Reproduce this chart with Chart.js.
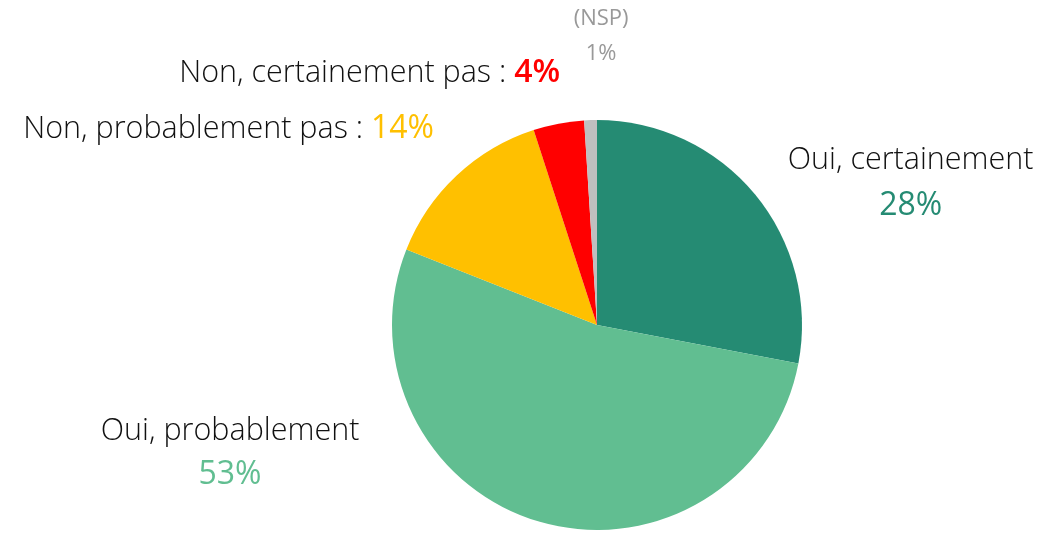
<!DOCTYPE html>
<html>
<head>
<meta charset="utf-8">
<script src="https://cdn.jsdelivr.net/npm/chart.js@4/dist/chart.umd.min.js"></script>
<style>
  html, body { margin: 0; padding: 0; background: #fff; }
  #wrap { width: 1046px; height: 543px; }
</style>
</head>
<body>
<div id="wrap"><canvas id="pieChart" width="1046" height="543"></canvas></div>
<script>
// answers, clockwise from the top
const categories = ['Oui, certainement', 'Oui, probablement', 'Non, probablement pas', 'Non, certainement pas', '(NSP)'];
const shares = [28, 53, 14, 4, 1];
const sliceColors = ['#258B73', '#61BE91', '#FFC000', '#FF0000', '#BFBFBF'];

const FONT = '"Open Sans", "Noto Sans", sans-serif';

// labels drawn around the pie, positioned relative to its center and radius
const pieLabels = {
    id: 'pieLabels',
    afterDraw(chart) {
        const arc = chart.getDatasetMeta(0).data[0];
        const cx = arc.x, cy = arc.y, r = arc.outerRadius;
        const ctx = chart.ctx;
        ctx.save();
        ctx.textBaseline = 'middle';

        function txt(s, x, y, color, size, align, weight) {
            ctx.font = (weight || '300') + ' ' + size + 'px ' + FONT;
            ctx.fillStyle = color;
            ctx.textAlign = align;
            ctx.fillText(s, x, y);
            return ctx.measureText(s).width;
        }
        const pct = i => shares[i] + '%';

        // Oui, certainement
        txt(categories[0], cx + 1.53 * r, cy - 0.805 * r, '#111', 30.5, 'center');
        txt(pct(0), cx + 1.53 * r, cy - 0.58 * r, sliceColors[0], 32, 'center', '400');

        // Oui, probablement
        txt(categories[1], cx - 1.79 * r, cy + 0.52 * r, '#111', 30.5, 'center');
        txt(pct(1), cx - 1.79 * r, cy + 0.73 * r, sliceColors[1], 32, 'center', '400');

        // Non, probablement pas : 14%
        ctx.font = '400 32px ' + FONT;
        let w = ctx.measureText(pct(2)).width;
        let right = cx - 0.795 * r;
        txt(pct(2), right, cy - 0.955 * r, sliceColors[2], 32, 'right', '400');
        txt(categories[2] + ' : ', right - w, cy - 0.955 * r, '#111', 30.5, 'right');

        // Non, certainement pas : 4%
        ctx.font = '600 32px ' + FONT;
        w = ctx.measureText(pct(3)).width;
        right = cx - 0.18 * r;
        txt(pct(3), right, cy - 1.23 * r, sliceColors[3], 32, 'right', '600');
        txt(categories[3] + ' : ', right - w, cy - 1.23 * r, '#111', 30.5, 'right');

        // (NSP)
        txt(categories[4], cx + 0.02 * r, cy - 1.495 * r, '#999', 22, 'center', '400');
        txt(pct(4), cx + 0.02 * r, cy - 1.325 * r, '#999', 22, 'center', '400');

        ctx.restore();
    }
};

new Chart(document.getElementById('pieChart').getContext('2d'), {
    type: 'pie',
    data: {
        labels: categories,
        datasets: [{
            data: shares,
            backgroundColor: sliceColors,
            borderWidth: 0
        }]
    },
    options: {
        responsive: false,
        animation: false,
        layout: {
            padding: { top: 120, bottom: 13, left: 392, right: 244 }
        },
        plugins: {
            legend: { display: false },
            tooltip: { enabled: false }
        }
    },
    plugins: [pieLabels]
});
</script>
</body>
</html>
